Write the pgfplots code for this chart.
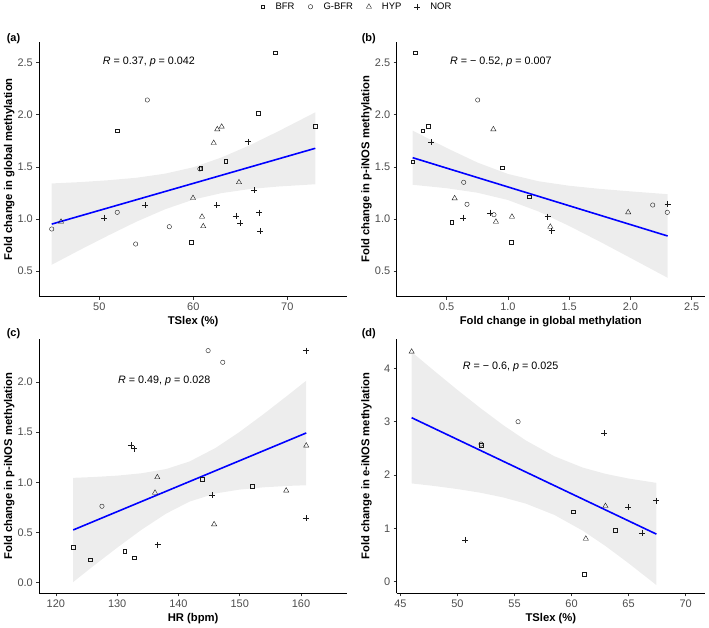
\documentclass[border=0pt]{standalone}
\usepackage{fontspec}
\setmainfont{Liberation Sans}
\usepackage{pgfplots}
\pgfplotsset{compat=1.18}
\definecolor{ribbon}{RGB}{211,211,211}
\definecolor{tickgrey}{RGB}{77,77,77}
\pgfplotsset{
  myax/.style={scale only axis, anchor=south west,
    axis lines*=left, axis line style={line width=0.5bp,-},
    tick align=outside, tick pos=left, major tick length=3bp,
    tick style={line width=0.5bp, black!80},
    tick label style={font=\fontsize{11}{12}\selectfont, text=tickgrey},
    /pgf/number format/assume math mode=true,
    label style={font=\bfseries\fontsize{11.3}{13}\selectfont},
    xlabel style={at={(axis description cs:0.5,-0.098)}, anchor=center},
    ylabel style={at={(axis description cs:-0.098,0.5)}, anchor=center},
  },
  limg/.style={legend image code/.code={\draw[##1,/tikz/only marks] plot coordinates {(0bp,0bp)}; \path[draw=none,fill=none] (-6bp,0bp) (11bp,0bp);}},
  bfr/.style={only marks, mark=square, mark size=1.9bp, black!90, mark options={line width=0.4bp}, limg},
  gbfr/.style={only marks, mark=o, mark size=2.2bp, black!90, mark options={line width=0.4bp}, limg},
  hyp/.style={only marks, mark=triangle, mark size=3bp, black!90, mark options={line width=0.4bp}, limg},
  nor/.style={only marks, mark=+, mark size=3bp, black!90, mark options={line width=0.45bp}, limg},
  band/.style={draw=none, fill=ribbon, fill opacity=0.4, forget plot},
  reg/.style={blue, line width=1.6bp, forget plot},
}
\begin{document}
\begin{tikzpicture}
\path[use as bounding box] (0,0) rectangle (709bp,628bp);
% (a)
\begin{axis}[myax, at={(39.3bp,331.3bp)}, width=307.7bp, height=255bp,
  xmin=43.62, xmax=76.35, ymin=0.255, ymax=2.70,
  xtick={50,60,70}, xticklabels={50,60,70},
  ytick={0.5,1.0,1.5,2.0,2.5}, yticklabels={0.5,1.0,1.5,2.0,2.5},
  xlabel={TSlex (\%)}, ylabel={Fold change in global methylation},
  legend style={at={(1.026,1.137)}, anchor=center, draw=none, fill=none,
    legend columns=4, font=\fontsize{9.5}{11}\selectfont,
    /tikz/every even column/.append style={column sep=8bp}},
]
\addplot[bfr] coordinates {(68.69,2.594) (66.91,2.013) (51.91,1.847) (72.98,1.892) (63.45,1.553) (60.79,1.486) (59.79,0.779)};
\addplot[gbfr] coordinates {(55.11,2.141) (51.91,1.064) (57.45,0.926) (53.87,0.760) (60.70,1.480) (44.94,0.904)};
\addplot[hyp] coordinates {(62.55,1.860) (63.02,1.885) (62.17,1.729) (64.86,1.352) (59.97,1.201) (60.93,1.022) (61.06,0.930) (45.93,0.974)};
\addplot[nor] coordinates {(65.79,1.741) (66.46,1.275) (62.49,1.134) (54.86,1.131) (50.53,1.012) (64.54,1.029) (66.99,1.061) (65.00,0.959) (67.13,0.885)};
\legend{BFR,G-BFR,HYP,NOR}
\addplot[band] coordinates {(44.94,1.341) (48,1.354) (51,1.372) (54,1.396) (57,1.435) (60,1.496) (63,1.590) (66,1.707) (69,1.839) (72.98,2.023)
  (72.98,1.333) (69,1.311) (66,1.287) (63,1.248) (60,1.186) (57,1.093) (54,0.976) (51,0.844) (48,0.706) (44.94,0.561)} -- cycle;
\addplot[reg] coordinates {(44.94,0.951) (72.98,1.678)};
\node[anchor=west, font=\fontsize{10.8}{13}\selectfont] at (axis cs:50,2.51) {\textit{R} = 0.37, \textit{p} = 0.042};
\end{axis}
% (b)
\begin{axis}[myax, at={(396.7bp,331.3bp)}, width=308.3bp, height=255bp,
  xmin=0.092, xmax=2.609, ymin=0.255, ymax=2.70,
  xtick={0.5,1.0,1.5,2.0,2.5}, xticklabels={0.5,1.0,1.5,2.0,2.5},
  ytick={0.5,1.0,1.5,2.0,2.5}, yticklabels={0.5,1.0,1.5,2.0,2.5},
  xlabel={Fold change in global methylation}, ylabel={Fold change in p-iNOS methylation},
]
\addplot[bfr] coordinates {(0.241,2.594) (0.304,1.847) (0.350,1.889) (0.222,1.549) (0.951,1.492) (1.174,1.214) (0.541,0.971) (1.025,0.779)};
\addplot[gbfr] coordinates {(0.753,2.141) (0.639,1.352) (0.666,1.141) (0.886,1.041) (2.182,1.134) (2.301,1.064)};
\addplot[hyp] coordinates {(0.881,1.860) (0.565,1.198) (1.033,1.022) (0.902,0.974) (1.346,0.926) (1.982,1.064)};
\addplot[nor] coordinates {(0.374,1.738) (0.636,1.012) (0.853,1.060) (1.324,1.022) (1.357,0.888) (2.304,1.141)};
\addplot[band] coordinates {(0.222,1.848) (0.5,1.681) (0.75,1.542) (1.0,1.432) (1.25,1.362) (1.5,1.319) (1.75,1.289) (2.0,1.265) (2.304,1.238)
  (2.304,0.436) (2.0,0.627) (1.75,0.783) (1.5,0.933) (1.25,1.072) (1.0,1.182) (0.75,1.252) (0.5,1.295) (0.222,1.328)} -- cycle;
\addplot[reg] coordinates {(0.222,1.588) (2.304,0.837)};
\node[anchor=west, font=\fontsize{10.8}{13}\selectfont] at (axis cs:0.5,2.51) {\textit{R} = − 0.52, \textit{p} = 0.007};
\end{axis}
% (c)
\begin{axis}[myax, at={(39.3bp,34.7bp)}, width=307.7bp, height=254.3bp,
  xmin=117.3, xmax=167.5, ymin=-0.106, ymax=2.427,
  xtick={120,130,140,150,160}, xticklabels={120,130,140,150,160},
  ytick={0,0.5,1.0,1.5,2.0}, yticklabels={0.0,0.5,1.0,1.5,2.0},
  xlabel={HR (bpm)}, ylabel={Fold change in p-iNOS methylation},
]
\addplot[bfr] coordinates {(122.83,0.356) (125.56,0.229) (131.23,0.313) (132.79,0.249) (143.86,1.033) (152.03,0.960)};
\addplot[gbfr] coordinates {(144.84,2.311) (147.23,2.195) (127.52,0.761)};
\addplot[hyp] coordinates {(136.55,1.050) (136.18,0.896) (145.82,0.581) (157.58,0.917) (160.85,1.365)};
\addplot[nor] coordinates {(160.80,2.311) (132.25,1.368) (132.75,1.335) (145.44,0.870) (136.62,0.378) (160.80,0.641)};
\addplot[band] coordinates {(122.83,1.044) (126,1.052) (130,1.066) (134,1.090) (138,1.132) (141.8,1.207) (146,1.340) (150,1.503) (154,1.684) (158,1.874) (160.85,2.012)
  (160.85,0.970) (158,0.964) (154,0.950) (150,0.927) (146,0.888) (141.8,0.807) (138,0.688) (134,0.528) (130,0.348) (126,0.160) (122.83,0.006)} -- cycle;
\addplot[reg] coordinates {(122.83,0.525) (160.85,1.491)};
\node[anchor=west, font=\fontsize{10.8}{13}\selectfont] at (axis cs:129.6,2.012) {\textit{R} = 0.49, \textit{p} = 0.028};
\end{axis}
% (d)
\begin{axis}[myax, at={(396.7bp,34.7bp)}, width=308.3bp, height=254.3bp,
  xmin=44.67, xmax=71.7, ymin=-0.217, ymax=4.549,
  xtick={45,50,55,60,65,70}, xticklabels={45,50,55,60,65,70},
  ytick={0,1,2,3,4}, yticklabels={0,1,2,3,4},
  xlabel={TSlex (\%)}, ylabel={Fold change in e-iNOS methylation},
]
\addplot[bfr] coordinates {(52.06,2.562) (60.11,1.312) (63.84,0.969) (61.12,0.139)};
\addplot[gbfr] coordinates {(55.31,2.999) (52.06,2.580)};
\addplot[hyp] coordinates {(45.98,4.311) (62.97,1.419) (61.25,0.806)};
\addplot[nor] coordinates {(62.85,2.787) (50.69,0.782) (64.96,1.400) (67.44,1.518) (66.16,0.918)};
\addplot[band] coordinates {(45.98,4.306) (48,3.945) (50,3.594) (52,3.256) (54,2.936) (56,2.647) (58.5,2.351) (61,2.138) (63,2.021) (65,1.934) (67.44,1.853)
  (67.44,-0.063) (65,0.346) (63,0.665) (61,0.954) (58.5,1.251) (56,1.463) (54,1.580) (52,1.668) (50,1.736) (48,1.793) (45.98,1.842)} -- cycle;
\addplot[reg] coordinates {(45.98,3.074) (67.44,0.892)};
\node[anchor=west, font=\fontsize{10.8}{13}\selectfont] at (axis cs:50.16,4.02) {\textit{R} = − 0.6, \textit{p} = 0.025};
\end{axis}
\node[anchor=west, font=\bfseries\fontsize{11}{13}\selectfont] at (3.3bp,589.7bp) {(a)};
\node[anchor=west, font=\bfseries\fontsize{11}{13}\selectfont] at (358.3bp,589.7bp) {(b)};
\node[anchor=west, font=\bfseries\fontsize{11}{13}\selectfont] at (3.3bp,294.7bp) {(c)};
\node[anchor=west, font=\bfseries\fontsize{11}{13}\selectfont] at (358.3bp,294.7bp) {(d)};
\end{tikzpicture}
\end{document}
